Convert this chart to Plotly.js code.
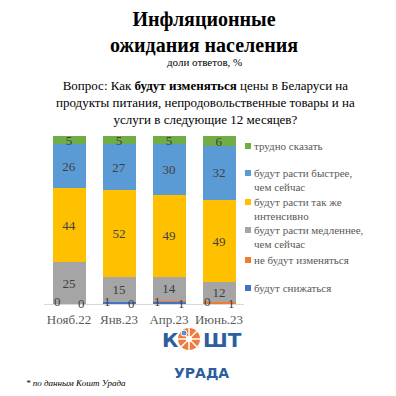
<!DOCTYPE html>
<html><head><meta charset="utf-8">
<script src="https://cdn.plot.ly/plotly-3.0.1.min.js"></script>
<style>html,body{margin:0;padding:0;background:#fff}#c{width:396px;height:396px}</style>
</head><body><div id="c"></div>
<script>
var categories = ['Нояб.22', 'Янв.23', 'Апр.23', 'Июнь.23'];
var seriesNames = ['будут снижаться', 'не будут изменяться', 'будут расти медленнее,<br>чем сейчас', 'будут расти так же<br>интенсивно', 'будут расти быстрее,<br>чем сейчас', 'трудно сказать'];
var seriesColors = ['#4472C4', '#ED7D31', '#A5A5A5', '#FFC000', '#5B9BD5', '#70AD47'];
var decrease = [0, 1, 1, 0];
var noChange = [0, 0, 1, 1];
var slower = [25, 15, 14, 12];
var same = [44, 52, 49, 49];
var faster = [26, 27, 30, 32];
var hardToSay = [5, 5, 5, 6];
var seriesValues = [decrease, noChange, slower, same, faster, hardToSay];

var W = 396, H = 396, ML = 44, MR = 152, MT = 136, MB = 92;
var PW = W - ML - MR, PH = H - MT - MB;
function px(x) { return (x - ML) / PW; }
function py(y) { return (H - MB - y) / PH; }

var serif = 'Liberation Serif, Times New Roman, serif';
var traces = seriesValues.map(function (vals, i) {
  var big = i >= 2;
  return {
    type: 'bar', x: categories, y: vals, name: seriesNames[i],
    marker: { color: seriesColors[i] },
    text: big ? vals.map(String) : null,
    textposition: big ? 'inside' : 'none',
    insidetextanchor: 'middle', textangle: 0, constraintext: 'none',
    textfont: { family: serif, size: 13, color: '#404040' },
    hoverinfo: 'none', showlegend: false
  };
});

var annotations = [];
var shapes = [];
// small-value labels at bar bottoms
[decrease, noChange].forEach(function (vals, s) {
  vals.forEach(function (v, k) {
    annotations.push({
      xref: 'x', yref: 'y', x: categories[k], y: 0, text: String(v), showarrow: false,
      xshift: s === 0 ? -12 : 12, yshift: s === 0 ? 3 : 1,
      font: { family: serif, size: 13, color: '#404040' }
    });
  });
});

// legend (manual, to match spacing)
var legendY = [146, 173, 202, 230, 260, 288];
for (var i = 5; i >= 0; i--) {
  var yy = legendY[5 - i];
  shapes.push({ type: 'rect', xref: 'paper', yref: 'paper', xsizemode: 'pixel', ysizemode: 'pixel',
    xanchor: px(248), yanchor: py(yy), x0: -3, x1: 3, y0: -3, y1: 3,
    fillcolor: seriesColors[i], line: { width: 0 } });
  annotations.push({ xref: 'paper', yref: 'paper', x: px(252), y: py(yy - 8), xanchor: 'left', yanchor: 'top',
    align: 'left', showarrow: false, text: seriesNames[i],
    font: { family: serif, size: 11, color: '#595959' } });
}

// titles
annotations.push({ xref: 'paper', yref: 'paper', x: px(204), y: py(32), xanchor: 'center', yanchor: 'middle',
  showarrow: false, text: '<b>Инфляционные<br>ожидания населения</b>',
  font: { family: serif, size: 20, color: '#000' } });
annotations.push({ xref: 'paper', yref: 'paper', x: px(204), y: py(62), xanchor: 'center', yanchor: 'middle',
  showarrow: false, text: 'доли ответов, %', font: { family: serif, size: 11, color: '#000' } });
annotations.push({ xref: 'paper', yref: 'paper', x: px(205), y: py(102), xanchor: 'center', yanchor: 'middle',
  showarrow: false, text: 'Вопрос: Как <b>будут изменяться</b> цены в Беларуси на<br>продукты питания, непродовольственные товары и на<br>услуги в следующие 12 месяцев?',
  font: { family: serif, size: 13, color: '#000' } });

// logo
var blue = '#2D5F9E', orange = '#F07B3F';
annotations.push({ xref: 'paper', yref: 'paper', x: px(170), y: py(340), xanchor: 'center', yanchor: 'middle',
  showarrow: false, text: '<b>К</b>', font: { family: 'DejaVu Sans, sans-serif', size: 20, color: blue } });
annotations.push({ xref: 'paper', yref: 'paper', x: px(222), y: py(340), xanchor: 'center', yanchor: 'middle',
  showarrow: false, text: '<b>ШТ</b>', font: { family: 'DejaVu Sans, sans-serif', size: 20, color: blue } });
annotations.push({ xref: 'paper', yref: 'paper', x: px(201), y: py(373), xanchor: 'center', yanchor: 'middle',
  showarrow: false, text: '<b>УРАДА</b>', font: { family: 'DejaVu Sans, sans-serif', size: 14, color: blue } });
shapes.push({ type: 'circle', xref: 'paper', yref: 'paper', xsizemode: 'pixel', ysizemode: 'pixel',
  xanchor: px(189), yanchor: py(339), x0: -11, x1: 11, y0: -11, y1: 11, fillcolor: orange, line: { width: 0 } });
[[-11, 0, 11, 0], [0, -11, 0, 11], [-8, -8, 8, 8], [-8, 8, 8, -8]].forEach(function (l) {
  shapes.push({ type: 'line', xref: 'paper', yref: 'paper', xsizemode: 'pixel', ysizemode: 'pixel',
    xanchor: px(189), yanchor: py(339), x0: l[0], y0: l[1], x1: l[2], y1: l[3], line: { color: '#fff', width: 1.5 } });
});
shapes.push({ type: 'circle', xref: 'paper', yref: 'paper', xsizemode: 'pixel', ysizemode: 'pixel',
  xanchor: px(189), yanchor: py(339), x0: -3, x1: 3, y0: -3, y1: 3, fillcolor: '#fff', line: { width: 0 } });
shapes.push({ type: 'circle', xref: 'paper', yref: 'paper', xsizemode: 'pixel', ysizemode: 'pixel',
  xanchor: px(184), yanchor: py(333), x0: -3, x1: 3, y0: -3, y1: 3, fillcolor: '#5B8FCF', line: { color: '#fff', width: 1 } });

// footnote
annotations.push({ xref: 'paper', yref: 'paper', x: px(24), y: py(383), xanchor: 'left', yanchor: 'middle',
  showarrow: false, text: '<i>* по данным Кошт Урада</i>', font: { family: serif, size: 9, color: '#000' } });

var layout = {
  width: W, height: H, margin: { l: ML, r: MR, t: MT, b: MB, pad: 0 },
  paper_bgcolor: '#fff', plot_bgcolor: '#fff',
  barmode: 'stack', bargap: 0.34, showlegend: false,
  xaxis: { type: 'category', showgrid: false, showline: true, linecolor: '#D9D9D9', linewidth: 1, ticks: '',
    ticklabelstandoff: 3,
    tickfont: { family: serif, size: 13, color: '#595959' }, fixedrange: true },
  yaxis: { range: [0, 100], visible: false, showgrid: false, zeroline: false, fixedrange: true },
  annotations: annotations, shapes: shapes
};
Plotly.newPlot('c', traces, layout, { displayModeBar: false, staticPlot: true });
</script></body></html>
